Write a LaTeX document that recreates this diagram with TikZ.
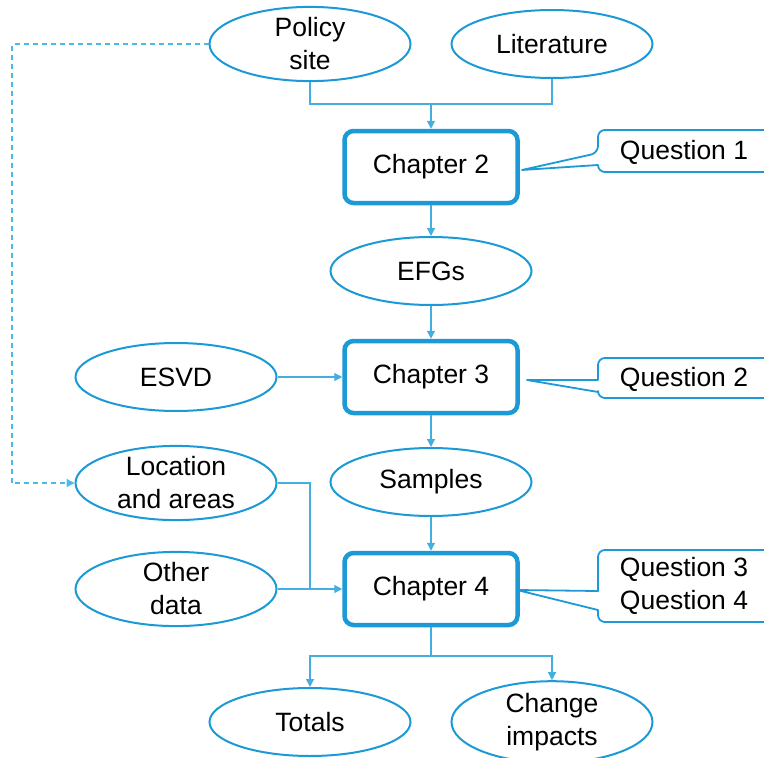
\documentclass[tikz,border=0pt]{standalone}
\usepackage{fontspec}
\setmainfont{Liberation Sans}
\usetikzlibrary{shapes.geometric,arrows.meta}
\definecolor{eblue}{HTML}{1B9AD6}
\definecolor{lblue}{HTML}{45AEE0}
\definecolor{dblue}{HTML}{4CB8E8}
\tikzset{
  x=1pt,y=-1pt,
  every node/.style={font=\fontsize{26.5}{33}\selectfont, text=black},
  oval/.style={ellipse, draw=eblue, line width=2pt, minimum width=201pt, minimum height=68pt, inner sep=0pt, align=center, fill=white},
  chap/.style={rectangle, rounded corners=9pt, draw=eblue, line width=4.5pt, minimum width=173pt, minimum height=72pt, fill=white},
  conn/.style={draw=lblue, line width=1.3pt},
  arr/.style={conn, -{Triangle[length=8pt,width=8pt]}},
  call/.style={draw=eblue, line width=1.8pt, fill=white, line join=round},
}
\begin{document}
\begin{tikzpicture}
\useasboundingbox (0,0) rectangle (764,758);
\clip (0,0) rectangle (764,758);
% ellipses
\node[oval] (policy) at (310,44) {Policy\\site};
\node[oval] (lit) at (552,44) {Literature};
\node[oval] (efg) at (431,271) {EFGs};
\node[oval] (esvd) at (176,377) {ESVD};
\node[oval] (samp) at (431,482) {Samples};
\node[oval] (loc) at (176,483) {Location\\and areas};
\node[oval] (other) at (176,589) {Other\\data};
\node[oval] (tot) at (310,722) {Totals};
\node[oval] (chg) at (552,722) {Change\\impacts};
% chapters
\node[chap] (ch2) at (431,167) {Chapter 2};
\node[chap] (ch3) at (431,377) {Chapter 3};
\node[chap] (ch4) at (431,589) {Chapter 4};
% connectors
\coordinate (j1) at (431,104);
\draw[conn] (policy.south) |- (j1) -| (lit.south);
\draw[arr] (j1) -- (ch2.north);
\draw[arr] (ch2.south) -- (efg.north);
\draw[arr] (efg.south) -- (ch3.north);
\draw[arr] (esvd.east) -- (ch3.west);
\draw[arr] (ch3.south) -- (samp.north);
\draw[arr] (samp.south) -- (ch4.north);
\draw[conn] (loc.east) -| (310,589);
\draw[arr] (other.east) -- (ch4.west);
\coordinate (j2) at (431,656);
\draw[conn] (ch4.south) -- (j2);
\draw[arr] (j2) -| (tot.north);
\draw[arr] (j2) -| (chg.north);
\coordinate (d1) at (12,44);
\draw[dblue, line width=1.3pt, dash pattern=on 5pt off 4pt, -{Triangle[length=8pt,width=8pt]}] (policy.west) -- (d1) |- (loc.west);
% callouts
\draw[call] (780,130) [rounded corners=7pt] -- (598,130) -- (598,153) [sharp corners] -- (522,170) -- (598,165) [rounded corners=7pt] -- (598,172) -- (780,172);
\node (q1) at (684,152) {Question 1};
\draw[call] (780,358) [rounded corners=7pt] -- (598,358) [sharp corners] -- (598,380) -- (527,380) -- (598,392) [rounded corners=7pt] -- (598,398) -- (780,398);
\node (q2) at (684,379) {Question 2};
\draw[call] (780,550) [rounded corners=7pt] -- (598,550) [sharp corners] -- (598,591) -- (517,590) -- (598,610) [rounded corners=7pt] -- (598,622) -- (780,622);
\node[align=center] (q3) at (684,586) {Question 3\\Question 4};
\end{tikzpicture}
\end{document}
